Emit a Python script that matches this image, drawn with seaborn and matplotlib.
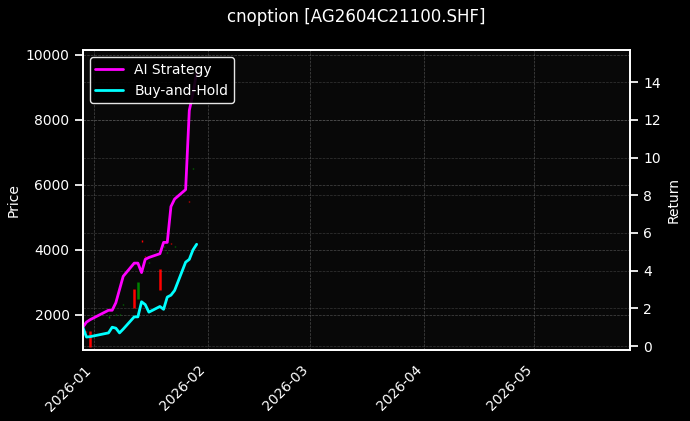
import matplotlib
matplotlib.use("Agg")
import matplotlib.pyplot as plt
import matplotlib.dates as mdates
import seaborn as sns
import pandas as pd
import numpy as np

dates = pd.to_datetime(["2025-12-29","2025-12-30","2025-12-31","2026-01-05","2026-01-06","2026-01-07",
    "2026-01-08","2026-01-09","2026-01-12","2026-01-13","2026-01-14","2026-01-15","2026-01-16",
    "2026-01-19","2026-01-20","2026-01-21","2026-01-22","2026-01-23","2026-01-26","2026-01-27",
    "2026-01-28","2026-01-29"])
ai_ret = [1.0,1.27,1.4,1.9,1.9,2.3,3.0,3.7,4.4,4.4,3.9,4.6,4.7,4.9,5.5,5.5,7.4,7.8,8.3,12.5,13.4,14.5]
bh_ret = [1.0,0.48,0.5,0.7,1.0,0.95,0.7,0.9,1.55,1.55,2.35,2.2,1.8,2.1,1.95,2.6,2.7,2.95,4.45,4.6,5.1,5.4]
opens  = [1600,1500,1500,1900,2100,2000,2000,2300,2800,2500,4300,3800,3600,3400,4100,3900,4200,4100,5000,5500,6500,7000]
closes = [1620,1480,1000,1950,2080,2020,2010,2320,2200,3000,4250,3780,3620,2750,4120,3920,4180,4120,5020,5480,6520,7020]

sns.set_theme(style="dark")
plt.style.use("dark_background")
plt.rcParams.update({"font.size": 10, "axes.titlesize": 12, "axes.labelsize": 10,
                     "xtick.labelsize": 10, "ytick.labelsize": 10, "legend.fontsize": 10})
fig, ax = plt.subplots(figsize=(6.9, 4.21), dpi=100)
fig.patch.set_facecolor("black")
ax.set_facecolor("#080808")

for d, o, c in zip(dates, opens, closes):
    col = "green" if c >= o else "red"
    ax.vlines(d, min(o, c), max(o, c), color=col, linewidth=1.8 if abs(c-o) > 100 else 1.0)

ax.set_ylim(920, 10150)
ax.set_ylabel("Price")
ax.grid(True, color="#666666", linestyle="--", linewidth=0.5, alpha=0.7)

ax2 = ax.twinx()
df = pd.DataFrame({"date": list(dates)*2, "ret": ai_ret + bh_ret,
                   "series": ["AI Strategy"]*len(dates) + ["Buy-and-Hold"]*len(dates)})
sns.lineplot(data=df, x="date", y="ret", hue="series", palette=["#ff00ff", "#00ffff"],
             linewidth=2, ax=ax2)
ax2.set_ylim(-0.2, 15.7)
ax2.set_ylabel("Return")
ax2.set_xlabel("")
ax2.grid(True, axis="y", color="#666666", linestyle="--", linewidth=0.5, alpha=0.5)
ax2.legend(loc="upper left", facecolor="black", edgecolor="white", framealpha=0.9)
ax.set_xlim(pd.Timestamp("2025-12-29"), pd.Timestamp("2026-05-27"))
ax.xaxis.set_major_locator(mdates.MonthLocator())
ax.xaxis.set_major_formatter(mdates.DateFormatter("%Y-%m"))
plt.setp(ax.get_xticklabels(), rotation=45, ha="right")
ax.set_title("cnoption [AG2604C21100.SHF]", pad=20)
plt.subplots_adjust(left=0.12, right=0.913, top=0.881, bottom=0.169)
fig.savefig("out.png", dpi=100)
